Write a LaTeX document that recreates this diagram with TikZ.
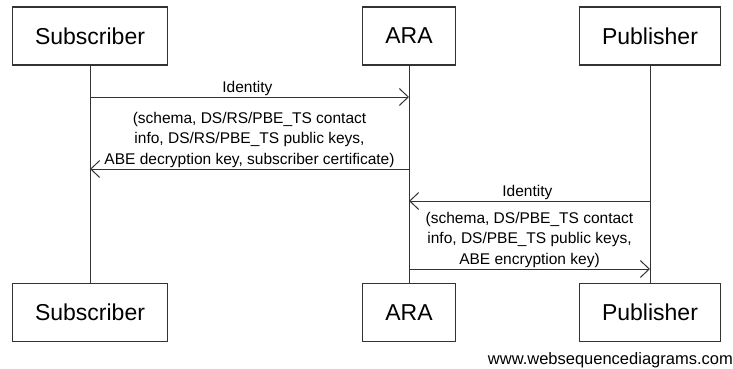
\documentclass[tikz,border=0pt]{standalone}
\usepackage{fontspec}
\setmainfont{Liberation Sans}
\usetikzlibrary{positioning,arrows.meta}

\begin{document}
\begin{tikzpicture}[x = 1pt, y = -1pt,
    actor/.style = { draw = black!80, line width = 1.2pt, minimum height = 58pt, inner xsep = 22.5pt, font = \fontsize{23}{27}\selectfont },
    life/.style = { draw = black!80, line width = 1pt },
    msg/.style = { draw = black!80, line width = 1pt, -{Straight Barb[length = 9pt, width = 17pt]} },
    msgtext/.style = { align = center, anchor = south, inner sep = 1pt, font = \fontsize{15.5}{20.5}\selectfont }]
  \useasboundingbox (0,0) rectangle (733,369);
  % participants
  \node [actor] (sub) at (90,36) { Subscriber };
  \node [actor] (ara) at (409,36) { ARA };
  \node [actor] (pub) at (650,36) { Publisher };
  \node [actor, below = 217pt of sub] (subb) { Subscriber };
  \node [actor, below = 217pt of ara] (arab) { ARA };
  \node [actor, below = 217pt of pub] (pubb) { Publisher };
  % lifelines
  \draw [life] (sub) -- (subb);
  \draw [life] (ara) -- (arab);
  \draw [life] (pub) -- (pubb);
  % messages
  \coordinate (m1) at (0,97);
  \coordinate (m2) at (0,169);
  \coordinate (m3) at (0,201);
  \coordinate (m4) at (0,269);
  \draw [msg] (sub |- m1) -- node [msgtext] (id1) { Identity } (ara |- m1);
  \draw [msg] (ara |- m2) -- node [msgtext] (rep1) { (schema, DS/RS/PBE\_TS contact \\ info, DS/RS/PBE\_TS public keys, \\ ABE decryption key, subscriber certificate) } (sub |- m2);
  \draw [msg] (pub |- m3) -- node [msgtext] (id2) { Identity } (ara |- m3);
  \draw [msg] (ara |- m4) -- node [msgtext] (rep2) { (schema, DS/PBE\_TS contact \\ info, DS/PBE\_TS public keys, \\ ABE encryption key) } (pub |- m4);
  \node [anchor = base east, inner sep = 0, font = \fontsize{16.5}{18}\selectfont] (wsd) at (733,364) { www.websequencediagrams.com };
\end{tikzpicture}
\end{document}
